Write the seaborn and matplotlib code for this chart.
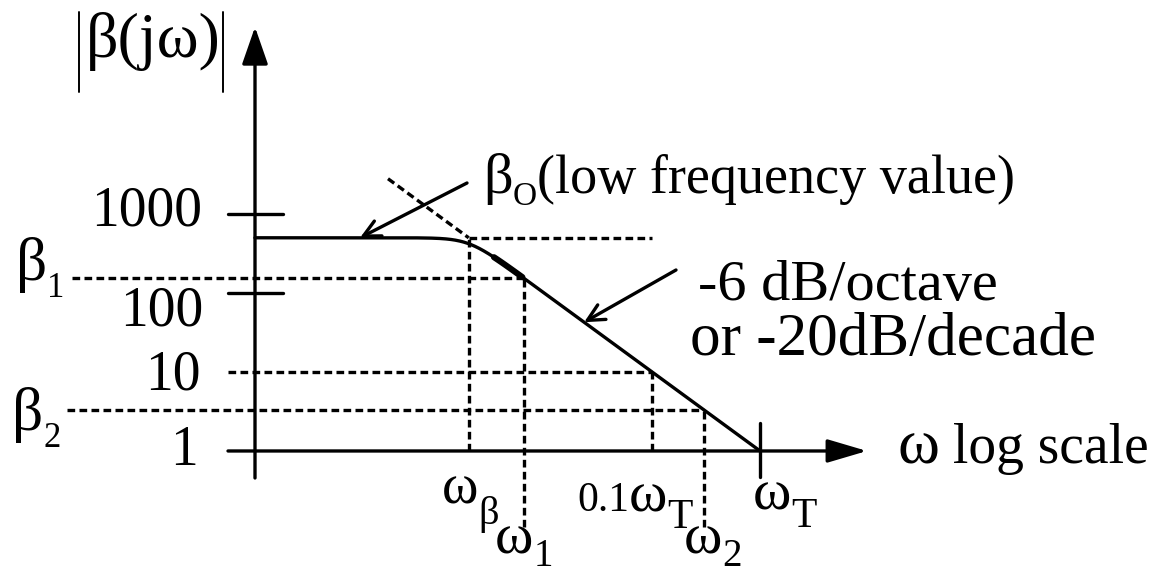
import numpy as np
import pandas as pd
import matplotlib
matplotlib.use("Agg")
import matplotlib.pyplot as plt
from matplotlib.lines import Line2D
import seaborn as sns

# Magnitudes of the current gain |beta(jw)| and normalised frequencies (w / wT)
omega_T = 1.0
beta_0 = 500.0          # low-frequency value
beta_1 = 155.0
beta_2 = 3.3
omega_beta = 0.002      # corner frequency
omega_1 = 0.0065
omega_01T = 0.1
omega_2 = 0.30
mag_ticks = [1000, 100]
mag_tick_labels = ["1000", "100", "10", "1"]

# Canvas geometry (pixels) and visible log ranges
W, H = 1156, 575
X_DEC = (-7.04, 3.667)   # log10(w/wT) at the left / right edge
Y_DEC = (-1.570, 5.709)  # log10|beta| at the bottom / top edge


def wx(px):
    return 10 ** (X_DEC[0] + px / W * (X_DEC[1] - X_DEC[0]))


def by(py):
    return 10 ** (Y_DEC[1] - py / H * (Y_DEC[1] - Y_DEC[0]))


sns.set_theme(style="white")
plt.rcParams["font.family"] = ["Liberation Serif", "DejaVu Serif"]

fig = plt.figure(figsize=(W / 100, H / 100), dpi=100)
ax = fig.add_axes([0, 0, 1, 1])
ax.set_xscale("log")
ax.set_yscale("log")
ax.set_xlim(10 ** X_DEC[0], 10 ** X_DEC[1])
ax.set_ylim(10 ** Y_DEC[0], 10 ** Y_DEC[1])
ax.axis("off")

K = "black"
LW = 2.4
dash = dict(color=K, lw=2.4, ls=(0, (2.3, 1.3)))

# Response with a rounded corner at w_beta, rolling off at -20 dB/decade
y_axis_w = wx(255)
w = np.logspace(np.log10(y_axis_w), np.log10(omega_T), 800)
mag = beta_0 / (1 + (w / omega_beta) ** 4) ** 0.25
df = pd.DataFrame({"omega": w, "beta": mag})
sns.lineplot(data=df, x="omega", y="beta", ax=ax, color=K, lw=LW,
             estimator=None, sort=False)
knee = df[(df.omega >= 0.0034) & (df.omega <= 0.0063)]
ax.plot(knee.omega, knee.beta, color=K, lw=4.4, solid_capstyle="round")

# Asymptote extensions
w_asym = np.array([wx(388), omega_beta])
ax.plot(w_asym, omega_T / w_asym, **dash)
ax.plot([omega_beta, omega_01T], [beta_0, beta_0], **dash)

# Guide lines
ax.plot([omega_beta, omega_beta], [1, beta_0], **dash)
ax.plot([wx(72), omega_1], [beta_1, beta_1], **dash)
ax.plot([omega_1, omega_1], [by(527), beta_1], **dash)
ax.plot([wx(228), omega_01T], [10, 10], **dash)
ax.plot([omega_01T, omega_01T], [1, 10], **dash)
ax.plot([wx(67), omega_2], [beta_2, beta_2], **dash)
ax.plot([omega_2, omega_2], [by(527), beta_2], **dash)

# Axes with arrow heads
ax.annotate("", xy=(y_axis_w, by(27)), xytext=(y_axis_w, by(478)),
            arrowprops=dict(arrowstyle="-|>,head_length=1.15,head_width=0.4",
                            mutation_scale=20, lw=LW, color=K,
                            shrinkA=0, shrinkB=0))
ax.annotate("", xy=(wx(867), 1), xytext=(wx(228), 1),
            arrowprops=dict(arrowstyle="-|>,head_length=1.22,head_width=0.36",
                            mutation_scale=20, lw=LW, color=K,
                            shrinkA=0, shrinkB=0))
for m in mag_ticks:
    ax.plot([wx(228), wx(283)], [m, m], color=K, lw=LW)
ax.plot([omega_T, omega_T], [by(423), by(477)], color=K, lw=LW)

# Pointer arrows
ax.annotate("", xy=(wx(360), beta_0), xytext=(wx(467), by(183)),
            arrowprops=dict(arrowstyle="->,head_length=0.6,head_width=0.3",
                            mutation_scale=20, lw=LW, color=K,
                            shrinkA=0, shrinkB=0))
w_tip = 10 ** -1.63
ax.annotate("", xy=(w_tip, omega_T / w_tip), xytext=(wx(676), by(270)),
            arrowprops=dict(arrowstyle="->,head_length=0.6,head_width=0.3",
                            mutation_scale=20, lw=LW, color=K,
                            shrinkA=0, shrinkB=0))

renderer = fig.canvas.get_renderer()


def label(px, py, s, ha="left", fs=40):
    fig.text(px / W, 1 - py / H, s, ha=ha, va="baseline", fontsize=fs, color=K)


def label_runs(px, py, runs):
    """Write text pieces one after another; each piece is (text, size, drop)."""
    x = px
    for s, fs, drop in runs:
        t = fig.text(x / W, 1 - (py + drop) / H, s, ha="left", va="baseline",
                     fontsize=fs, color=K)
        x = t.get_window_extent(renderer).x1


# Vertical-axis title with magnitude bars
label_runs(86, 57, [("β(jω)", 46, 0)])
for bx in (79, 223):
    fig.add_artist(Line2D([bx / W, bx / W], [1 - 12 / H, 1 - 92 / H],
                          transform=fig.transFigure, color=K, lw=1.4))

# Magnitude tick labels
for s, (px, py) in zip(mag_tick_labels, [(202, 225), (203, 325), (201, 390), (198, 465)]):
    label(px, py, s, ha="right")
label_runs(16, 280, [("β", 44, 0), ("1", 25, 17)])
label_runs(12, 430, [("β", 44, 0), ("2", 25, 17)])

# Frequency tick labels
label_runs(442, 503, [("ω", 40, 0), ("β", 29, 21)])
label_runs(495, 553, [("ω", 42, 0), ("1", 28, 13)])
label_runs(577, 511, [("0.1", 30, 0), ("ω", 42, 0), ("T", 30, 17)])
label_runs(684, 553, [("ω", 42, 0), ("2", 28, 13)])
label_runs(753, 510, [("ω", 42, 0), ("T", 30, 17)])

label_runs(483, 193, [("β", 42, 0), ("O", 24, 12), ("(low frequency value)", 39, 0)])
label(698, 300, "-6 dB/octave", fs=42)
label(690, 355, "or -20dB/decade", fs=44)
label_runs(897, 463, [("ω", 46, 0), (" log scale", 40, 0)])

fig.savefig("out.png", dpi=100)
